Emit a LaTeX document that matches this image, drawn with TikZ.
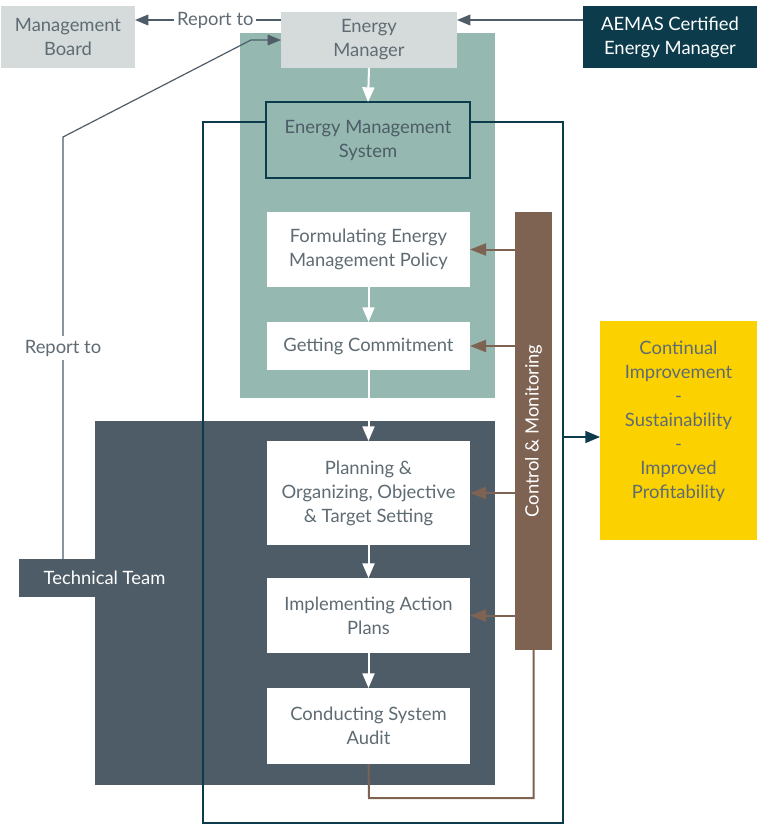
\documentclass[tikz,border=0pt]{standalone}
\usepackage{fontspec}
\setmainfont{Lato}
\usetikzlibrary{arrows.meta}
\definecolor{cTeal}{HTML}{95B9B0}
\definecolor{cSlate}{HTML}{4D5C67}
\definecolor{cNavy}{HTML}{0C3B4C}
\definecolor{cGrey}{HTML}{D5DBDB}
\definecolor{cBrown}{HTML}{7E6252}
\definecolor{cGold}{HTML}{FBD100}
\definecolor{cText}{HTML}{5F6B73}
\definecolor{cLine}{HTML}{4F5D69}
\tikzset{
  box/.style={inner sep=0pt, outer sep=0pt, align=center, text=cText},
  panel/.style={inner sep=0pt, outer sep=0pt},
  whitebox/.style={box, fill=white},
  greybox/.style={box, fill=cGrey},
  wflow/.style={draw=white, line width=1.5pt, -{Triangle[length=11pt,width=9pt]}},
  bflow/.style={draw=cBrown, line width=1.5pt, -{Triangle[length=12pt,width=9pt]}},
  gflow/.style={draw=cLine, line width=1.3pt, -{Triangle[length=10pt,width=8pt]}},
  nflow/.style={draw=cNavy, line width=1pt, -{Triangle[length=11pt,width=9pt]}},
}
% \rbox{style}{x1}{y1}{x2}{y2}{name} {text};
\newcommand\rbox[6]{\node[#1, minimum width={(#4-#2)*0.75pt}, minimum height={(#5-#3)*0.75pt}] (#6) at ({(#2+#4)/2},{(#3+#5)/2})}
\begin{document}
\begin{tikzpicture}[x=0.75pt,y=-0.75pt, font=\fontsize{13.8}{18}\selectfont]
\useasboundingbox (0,0) rectangle (758,828);
\fill[white] (0,0) rectangle (758,828);
% coordinates
\coordinate (r20) at (0,20);
\coordinate (bend1) at (63,137);
\coordinate (bend2) at (251,40);
\coordinate (lp) at (369,798);
% background panels
\rbox{panel, fill=cTeal}{240}{33}{495}{398}{tealbg} {};
\rbox{panel, fill=cSlate}{95}{421}{495}{785}{slatebg} {};
\rbox{panel, fill=cSlate, text=white}{19}{559}{190}{597}{tech} {Technical Team};
% outer frame
\draw[cNavy, line width=1.1pt] (203,122) rectangle (563,823);
\coordinate (fr) at (563,437);
% top boxes
\rbox{greybox}{1}{6}{135}{68}{mb} {Management\\Board};
\rbox{greybox}{281}{12}{457}{68}{em} {Energy\\Manager};
\rbox{box, fill=cNavy, text=white}{583}{6}{757}{68}{aemas} {AEMAS Certified\\Energy Manager};
\rbox{box, fill=cTeal, draw=cNavy, line width=1.1pt, text=cSlate}{266}{102}{470}{178}{ems} {Energy Management\\System};
% process boxes
\rbox{whitebox}{267}{212}{470}{287}{form} {Formulating Energy\\Management Policy};
\rbox{whitebox}{267}{322}{470}{370}{commit} {Getting Commitment};
\rbox{whitebox}{267}{441}{470}{545}{plan} {Planning \&\\Organizing, Objective\\\& Target Setting};
\rbox{whitebox}{267}{578}{470}{653}{impl} {Implementing Action\\Plans};
\rbox{whitebox}{267}{688}{470}{764}{audit} {Conducting System\\Audit};
% control bar
\rbox{panel, fill=cBrown}{515}{212}{552}{650}{ctrl} {};
\node[rotate=90, text=white] (ctrltxt) at (ctrl.center) {Control \& Monitoring};
% gold box
\rbox{panel, fill=cGold}{600}{321}{757}{540}{gold} {};
\node[box] (goldtxt) at ([yshift=6.75pt]gold.center) {Continual\\Improvement\\-\\Sustainability\\-\\Improved\\Profitability};
% white flow arrows
\draw[wflow] (em.south) -- (ems.north);
\draw[wflow] (form.south) -- (commit.north);
\draw[wflow] (commit.south) -- (plan.north);
\draw[wflow] (plan.south) -- (impl.north);
\draw[wflow] (impl.south) -- (audit.north);
% brown arrows
\draw[bflow] (ctrl.west |- form.east) -- (form.east);
\draw[bflow] (ctrl.west |- commit.east) -- (commit.east);
\draw[bflow] (ctrl.west |- plan.east) -- (plan.east);
\draw[bflow] (ctrl.west |- impl.east) -- (impl.east);
\draw[draw=cBrown, line width=1.5pt] (audit.south) -- (lp) -| (ctrl.south);
% report lines
\draw[gflow] (em.west |- r20) -- node[pos=0.45, fill=white, text=cText, inner sep=2pt] (rep1) {Report to} (mb.east |- r20);
\draw[gflow] (aemas.west |- r20) -- (em.east |- r20);
\draw[draw=cLine, line width=0.9pt, -{Triangle[length=10pt,width=8pt]}] (tech.north -| bend1) -- node[pos=0.5, fill=white, text=cText, inner sep=3pt] (rep2) {Report to} (bend1) -- (bend2) -- (em.west);
% to gold
\draw[nflow] (fr) -- (gold.west |- fr);
\end{tikzpicture}
\end{document}
